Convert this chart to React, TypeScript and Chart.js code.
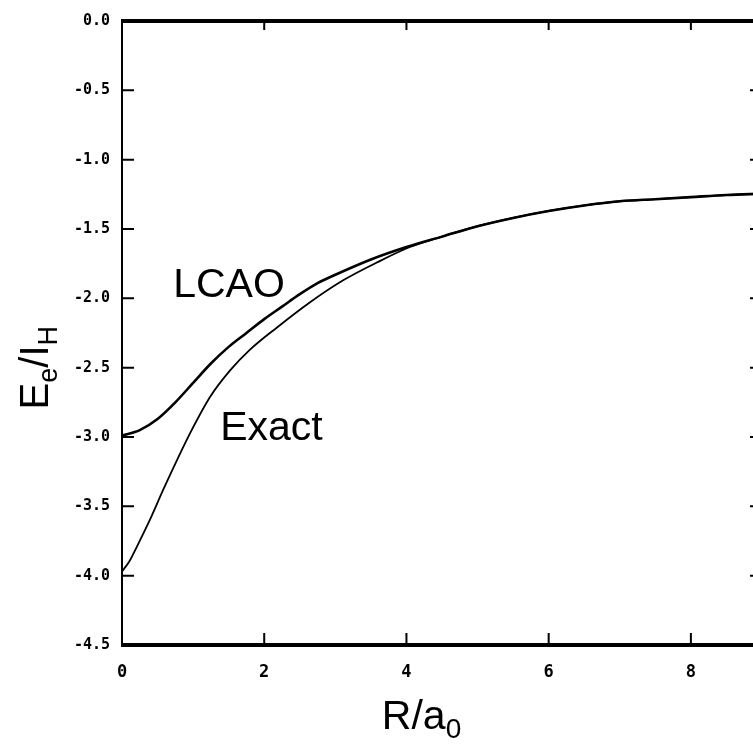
import React, { useEffect, useRef } from "react";
import { Chart, registerables } from "chart.js";

Chart.register(...registerables);

// ---- data ----
const lcaoR = [0, 0.25, 0.5, 0.75, 1.0, 1.25, 1.5, 1.75, 2.0, 2.25, 2.5, 2.75, 3.0, 3.5, 4.0, 4.5, 5.0, 5.5, 6.0, 6.5, 7.0, 7.5, 8.0, 8.5, 9.0];
const lcaoE = [-2.99, -2.95, -2.87, -2.75, -2.61, -2.47, -2.35, -2.25, -2.15, -2.06, -1.97, -1.89, -1.83, -1.72, -1.63, -1.555, -1.48, -1.42, -1.37, -1.33, -1.30, -1.285, -1.27, -1.255, -1.245];

const exactR = [0, 0.1, 0.21, 0.39, 0.58, 0.77, 0.96, 1.24, 1.52, 1.8, 2.18, 2.64, 3.11, 3.59, 4.05, 4.5, 5.0, 5.5, 6.0, 6.5, 7.0, 7.5, 8.0, 8.5, 9.0];
const exactE = [-3.97, -3.9, -3.79, -3.6, -3.38, -3.17, -2.97, -2.71, -2.52, -2.37, -2.21, -2.03, -1.87, -1.74, -1.63, -1.555, -1.48, -1.42, -1.37, -1.33, -1.30, -1.285, -1.27, -1.255, -1.245];

const xTickValues = [0, 2, 4, 6, 8];
const yTickValues = [0, -0.5, -1.0, -1.5, -2.0, -2.5, -3.0, -3.5, -4.0, -4.5];

const xTitleParts = [
  { text: "R/a", sub: false },
  { text: "0", sub: true },
];
const yTitleParts = [
  { text: "E", sub: false },
  { text: "e", sub: true },
  { text: "/I", sub: false },
  { text: "H", sub: true },
];

const curveLabels = [
  { text: "LCAO", r: 0.72, e: -1.99 },
  { text: "Exact", r: 1.38, e: -3.02 },
];

type Part = { text: string; sub: boolean };

function drawRich(
  ctx: CanvasRenderingContext2D,
  parts: Part[],
  cx: number,
  baseline: number,
  size: number
) {
  const subSize = Math.round(size * 0.68);
  const fam = "'Liberation Sans', Arial, sans-serif";
  let total = 0;
  const widths: number[] = [];
  for (const p of parts) {
    ctx.font = `${p.sub ? subSize : size}px ${fam}`;
    const w = ctx.measureText(p.text).width;
    widths.push(w);
    total += w;
  }
  let x = cx - total / 2;
  parts.forEach((p, i) => {
    ctx.font = `${p.sub ? subSize : size}px ${fam}`;
    ctx.fillText(p.text, x, p.sub ? baseline + size * 0.22 : baseline);
    x += widths[i];
  });
}

const framePlugin = {
  id: "frame",
  afterDraw(chart: any) {
    const { ctx, chartArea } = chart;
    const xs = chart.scales.x;
    const ys = chart.scales.y;
    const { left, right, top, bottom } = chartArea;
    ctx.save();
    ctx.strokeStyle = "#000";
    ctx.fillStyle = "#000";
    ctx.lineCap = "butt";
    // frame
    ctx.lineWidth = 4;
    ctx.beginPath();
    ctx.moveTo(left - 1, top);
    ctx.lineTo(right, top);
    ctx.moveTo(left - 1, bottom);
    ctx.lineTo(right, bottom);
    ctx.stroke();
    ctx.lineWidth = 2;
    ctx.beginPath();
    ctx.moveTo(left, top);
    ctx.lineTo(left, bottom);
    ctx.moveTo(right, top);
    ctx.lineTo(right, bottom);
    ctx.stroke();
    // inward ticks
    ctx.lineWidth = 2;
    ctx.beginPath();
    for (const v of yTickValues) {
      const py = ys.getPixelForValue(v);
      ctx.moveTo(left, py);
      ctx.lineTo(left + 12, py);
      ctx.moveTo(right, py);
      ctx.lineTo(right - 12, py);
    }
    for (const v of xTickValues) {
      if (v === 0) continue;
      const px = xs.getPixelForValue(v);
      ctx.moveTo(px, bottom);
      ctx.lineTo(px, bottom - 12);
      ctx.moveTo(px, top);
      ctx.lineTo(px, top + 9);
    }
    ctx.stroke();

    // curve labels
    ctx.textBaseline = "alphabetic";
    ctx.textAlign = "left";
    ctx.font = "41px 'Liberation Sans', Arial, sans-serif";
    for (const l of curveLabels) {
      ctx.fillText(l.text, xs.getPixelForValue(l.r), ys.getPixelForValue(l.e));
    }

    // axis titles
    drawRich(ctx, xTitleParts, left + (right - left) * 0.468, bottom + 84, 41);
    ctx.save();
    ctx.translate(48, ys.getPixelForValue(-2.5));
    ctx.rotate(-Math.PI / 2);
    drawRich(ctx, yTitleParts, 0, 0, 40);
    ctx.restore();
    ctx.restore();
  },
};

export default function App() {
  const ref = useRef<HTMLCanvasElement | null>(null);
  useEffect(() => {
    if (!ref.current) return;
    const chart = new Chart(ref.current, {
      type: "scatter",
      data: {
        datasets: [
          {
            label: "LCAO",
            data: lcaoR.map((r, i) => ({ x: r, y: lcaoE[i] })),
            showLine: true,
            borderColor: "#000",
            borderWidth: 2.6,
            pointRadius: 0,
            tension: 0.4,
            cubicInterpolationMode: "monotone",
          },
          {
            label: "Exact",
            data: exactR.map((r, i) => ({ x: r, y: exactE[i] })),
            showLine: true,
            borderColor: "#000",
            borderWidth: 1.8,
            pointRadius: 0,
            tension: 0.4,
            cubicInterpolationMode: "monotone",
          },
        ],
      },
      options: {
        animation: false,
        responsive: false,
        maintainAspectRatio: false,
        layout: { padding: { left: 0, top: 21, right: 8, bottom: 0 } },
        plugins: {
          legend: { display: false },
          tooltip: { enabled: false },
        },
        scales: {
          x: {
            type: "linear",
            min: 0,
            max: 9,
            afterBuildTicks: (s: any) => {
              s.ticks = xTickValues.map((v) => ({ value: v }));
            },
            afterFit: (s: any) => {
              s.height = 101;
            },
            grid: { display: false, drawTicks: false },
            border: { display: false },
            ticks: {
              padding: 17,
              color: "#000",
              maxRotation: 0,
              autoSkip: false,
              font: { family: "'DejaVu Sans Mono', monospace", size: 17, weight: "bold" },
              callback: (v: any) => String(v),
            },
          },
          y: {
            type: "linear",
            min: -4.5,
            max: 0,
            afterBuildTicks: (s: any) => {
              s.ticks = yTickValues.map((v) => ({ value: v }));
            },
            afterFit: (s: any) => {
              s.width = 122;
            },
            grid: { display: false, drawTicks: false },
            border: { display: false },
            ticks: {
              padding: 12,
              color: "#000",
              autoSkip: false,
              font: { family: "'DejaVu Sans Mono', monospace", size: 15, weight: "bold" },
              callback: (v: any) => Number(v).toFixed(1),
            },
          },
        },
      },
      plugins: [framePlugin],
    } as any);
    return () => chart.destroy();
  }, []);

  return (
    <div
      style={{
        position: "fixed",
        left: 0,
        top: 0,
        width: 753,
        height: 746,
        overflow: "hidden",
        background: "#fff",
      }}
    >
      <canvas ref={ref} width={770} height={746} style={{ width: 770, height: 746, display: "block" }} />
    </div>
  );
}
